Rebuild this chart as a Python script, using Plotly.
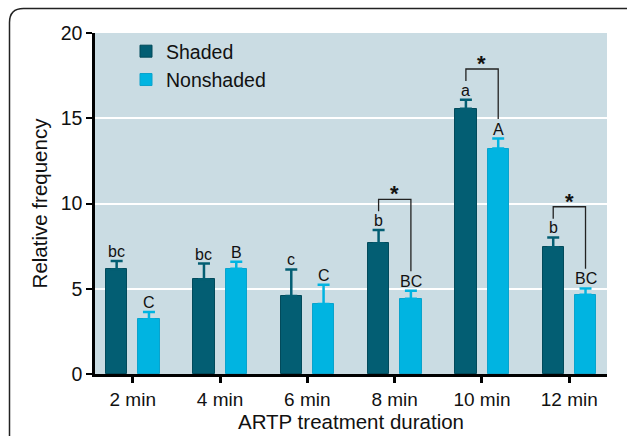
import plotly.graph_objects as go
import numpy as np

categories = ["2 min", "4 min", "6 min", "8 min", "10 min", "12 min"]
shaded = [6.13, 5.55, 4.57, 7.66, 15.56, 7.44]
shaded_err = [0.50, 0.93, 1.56, 0.78, 0.53, 0.57]
nonshaded = [3.20, 6.17, 4.10, 4.41, 13.22, 4.65]
nonshaded_err = [0.43, 0.41, 1.13, 0.47, 0.59, 0.37]
shaded_letters = ["bc", "bc", "c", "b", "a", "b"]
nonshaded_letters = ["C", "B", "C", "BC", "A", "BC"]
significant = [False, False, False, True, True, True]

DARK = "#035e73"
LIGHT = "#00b4e1"
BG = "#cadce3"
FONT = "Arial, Liberation Sans, sans-serif"

x = np.arange(len(categories))
W = 0.244
OFF_S = -0.306
OFF_N = 0.064

fig = go.Figure()
fig.add_trace(go.Bar(
    x=x, y=shaded, name="Shaded", width=W, offset=OFF_S,
    marker=dict(color=DARK, line=dict(color="#024a5b", width=1)),
    error_y=dict(type="data", array=shaded_err, arrayminus=[0]*6, symmetric=False,
                 color=DARK, thickness=2.5, width=6),
))
fig.add_trace(go.Bar(
    x=x, y=nonshaded, name="Nonshaded", width=W, offset=OFF_N,
    marker=dict(color=LIGHT, line=dict(color="#0aa3cc", width=1)),
    error_y=dict(type="data", array=nonshaded_err, arrayminus=[0]*6, symmetric=False,
                 color=LIGHT, thickness=2.5, width=6),
))

cs = OFF_S + W / 2
cn = OFF_N + W / 2
annotations = []
shapes = []
for i in range(len(categories)):
    ts = shaded[i] + shaded_err[i]
    tn = nonshaded[i] + nonshaded_err[i]
    annotations.append(dict(x=i + cs, y=ts, text=shaded_letters[i], showarrow=False,
                            yanchor="bottom", yshift=-1, font=dict(size=16, color="#111", family=FONT)))
    annotations.append(dict(x=i + cn, y=tn, text=nonshaded_letters[i], showarrow=False,
                            yanchor="bottom", yshift=-1, font=dict(size=16, color="#111", family=FONT)))
    if significant[i]:
        lb = ts + 1.1
        rb = tn + 1.15
        top = max(lb, rb) + 0.7
        shapes.append(dict(type="path", xref="x", yref="y",
                           path=f"M {i+cs},{lb} L {i+cs},{top} L {i+cn},{top} L {i+cn},{rb}",
                           line=dict(color="#222", width=1.3)))
        annotations.append(dict(x=i, y=top, text="<b>*</b>", showarrow=False,
                                yanchor="bottom", yshift=-9, font=dict(size=22, color="#111", family=FONT)))

# outer rounded frame (figure border)
L, R, T, B = 95, 607, 33, 374
def px(v): return (v - L) / (R - L)
def py(v): return (B - v) / (B - T)
x0, x1, yt, yb = px(9.5), px(627), py(8.5), py(440)
dx, dy = px(9.5 + 14) - x0, py(8.5) - py(8.5 + 14)
shapes.append(dict(type="path", xref="paper", yref="paper", layer="above",
                   path=f"M {x0},{yb} L {x0},{yt-dy} Q {x0},{yt} {x0+dx},{yt} L {x1},{yt}",
                   line=dict(color="#222", width=1.5)))

fig.update_layout(
    width=627, height=436,
    margin=dict(l=L, r=627 - R, t=T, b=436 - B),
    paper_bgcolor="white", plot_bgcolor=BG,
    font=dict(family=FONT, color="#111"),
    showlegend=True,
    legend=dict(x=px(126), y=py(32), xanchor="left", yanchor="top", bgcolor="rgba(0,0,0,0)",
                font=dict(size=19.5, family=FONT), itemwidth=30, tracegroupgap=0),
    annotations=annotations, shapes=shapes,
    bargap=0,
)
fig.update_xaxes(
    range=[-0.432, 5.432], tickvals=x, ticktext=categories, automargin=False,
    showline=True, linecolor="black", linewidth=2.5,
    ticks="outside", ticklen=6, tickwidth=2.5, tickcolor="black",
    showgrid=False, zeroline=False,
    tickfont=dict(size=19, family=FONT),
    title=dict(text="ARTP treatment duration", font=dict(size=20.5, family=FONT), standoff=6),
)
fig.update_yaxes(
    range=[0, 20], tickvals=[0, 5, 10, 15, 20], automargin=False,
    showline=True, linecolor="black", linewidth=2.5,
    ticks="outside", ticklen=6, tickwidth=2, tickcolor="black",
    showgrid=True, gridcolor="white", gridwidth=1.5, zeroline=False,
    tickfont=dict(size=19.5, family=FONT),
    title=dict(text="Relative frequency", font=dict(size=20.5, family=FONT), standoff=8),
)

fig.write_html("out.html")
